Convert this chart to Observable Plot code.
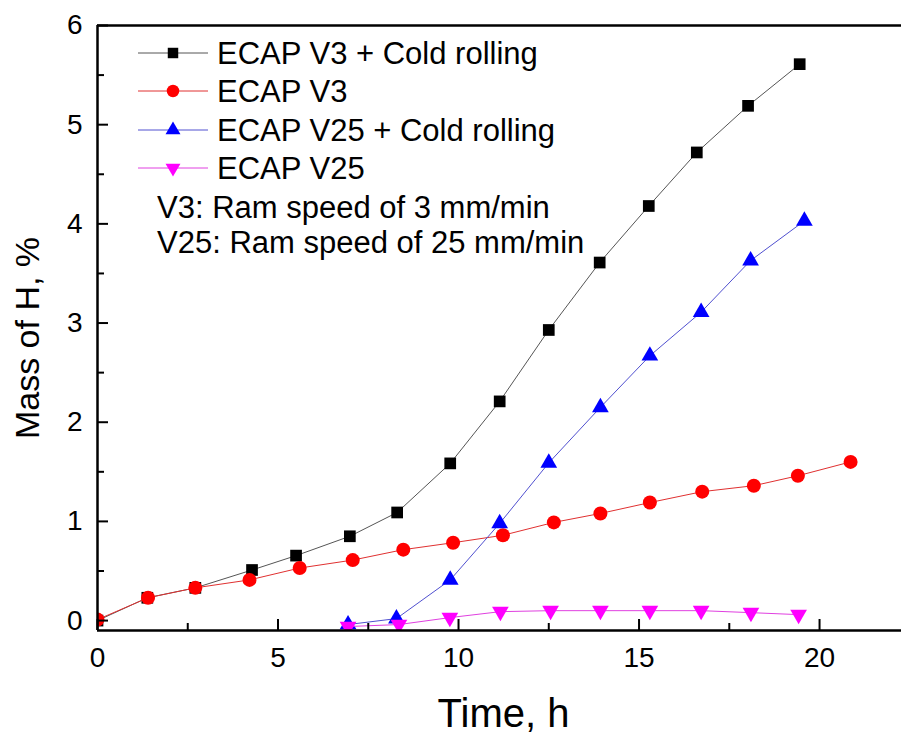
<!DOCTYPE html>
<html><head><meta charset="utf-8">
<script src="https://cdn.jsdelivr.net/npm/d3@7"></script>
<script src="https://cdn.jsdelivr.net/npm/@observablehq/plot@0.6"></script>
<style>
body{margin:0;background:#fff}
#chart{width:901px;height:734px}
</style>
</head><body><div id="chart"></div>
<script>
// ---- data ----
const seriesNames = ["ECAP V3 + Cold rolling", "ECAP V3", "ECAP V25 + Cold rolling", "ECAP V25"];
const noteLines = ["V3: Ram speed of 3 mm/min", "V25: Ram speed of 25 mm/min"];

const v3crTime = [0, 1.38, 2.71, 4.28, 5.5, 6.99, 8.3, 9.77, 11.14, 12.5, 13.91, 15.27, 16.6, 18.02, 19.45];
const v3crMass = [0, 0.23, 0.33, 0.51, 0.655, 0.85, 1.09, 1.585, 2.21, 2.93, 3.61, 4.18, 4.72, 5.19, 5.61];

const v3Time = [0, 1.4, 2.71, 4.21, 5.6, 7.07, 8.47, 9.85, 11.23, 12.64, 13.93, 15.3, 16.75, 18.18, 19.4, 20.86];
const v3Mass = [0.01, 0.23, 0.33, 0.41, 0.53, 0.61, 0.715, 0.785, 0.86, 0.99, 1.08, 1.19, 1.3, 1.36, 1.46, 1.6];

const v25crTime = [6.94, 8.28, 9.77, 11.14, 12.5, 13.93, 15.3, 16.72, 18.09, 19.58];
const v25crMass = [-0.04, 0.02, 0.41, 0.98, 1.59, 2.15, 2.67, 3.11, 3.63, 4.03];

const v25Time = [6.94, 8.35, 9.76, 11.16, 12.55, 13.93, 15.3, 16.72, 18.1, 19.42];
const v25Mass = [-0.06, -0.04, 0.03, 0.09, 0.1, 0.1, 0.1, 0.1, 0.08, 0.06];

const xTicks = [0, 5, 10, 15, 20];
const xMinor = [2.5, 7.5, 12.5, 17.5];
const yTicks = [0, 1, 2, 3, 4, 5, 6];
const yMinor = [0.5, 1.5, 2.5, 3.5, 4.5, 5.5];

// ---- styles ----
const seriesStyle = [
  {symbol: "square",   fill: "#000000", line: "#555555", r: 6.6, rotate: 0},
  {symbol: "circle",   fill: "#ff0000", line: "#e03030", r: 7,   rotate: 0},
  {symbol: "triangle", fill: "#0000ff", line: "#5050d0", r: 6.2, rotate: 0},
  {symbol: "triangle", fill: "#ff00ff", line: "#e040e0", r: 6.2, rotate: 180}
];

const toRows = (t, m) => t.map((x, i) => ({time: x, mass: m[i]}));
const series = [
  toRows(v3crTime, v3crMass),
  toRows(v3Time, v3Mass),
  toRows(v25crTime, v25crMass),
  toRows(v25Time, v25Mass)
];

const W = 901, H = 734, mL = 97, mR = 0, mT = 25, mB = 104;
const frameW = W - mL - mR, frameH = H - mT - mB;
const FONT = "'Liberation Sans', Arial, sans-serif";

const marks = [];
series.forEach((rows, i) => {
  const s = seriesStyle[i];
  marks.push(Plot.line(rows, {x: "time", y: "mass", stroke: s.line, strokeWidth: 1, clip: true}));
  marks.push(Plot.dot(rows, {x: "time", y: "mass", symbol: s.symbol, fill: s.fill, stroke: "none", r: s.r, rotate: s.rotate, clip: true}));
});

const chart = Plot.plot({
  width: W, height: H,
  marginLeft: mL, marginRight: mR, marginTop: mT, marginBottom: mB,
  style: {fontFamily: FONT, fontSize: "28px", color: "#000", background: "#fff"},
  x: {domain: [0, 22.27], axis: null},
  y: {domain: [-0.1, 6], axis: null},
  symbol: {type: "identity"},
  marks: [
    ...marks,
    // frame lines (left, bottom, top)
    Plot.ruleX([0], {stroke: "#000", strokeWidth: 2.5}),
    Plot.ruleY([-0.1], {stroke: "#000", strokeWidth: 2.5}),
    Plot.ruleY([6], {stroke: "#000", strokeWidth: 2.5}),
    // inward ticks
    Plot.tickX(xTicks, {x: d => d, insetTop: frameH - 11, stroke: "#000", strokeWidth: 2}),
    Plot.tickX(xMinor, {x: d => d, insetTop: frameH - 7, stroke: "#000", strokeWidth: 2}),
    Plot.tickY(yTicks, {y: d => d, insetRight: frameW - 11, stroke: "#000", strokeWidth: 2}),
    Plot.tickY(yMinor, {y: d => d, insetRight: frameW - 7, stroke: "#000", strokeWidth: 2}),
    // tick labels
    Plot.text(xTicks, {x: d => d, text: d => String(d), frameAnchor: "bottom", lineAnchor: "top", textAnchor: "middle", dy: 17, fontSize: 28, fill: "#000"}),
    Plot.text(yTicks, {y: d => d, text: d => String(d), frameAnchor: "left", lineAnchor: "middle", textAnchor: "end", dx: -15, fontSize: 28, fill: "#000"}),
    // axis titles
    Plot.text(["Time, h"], {frameAnchor: "bottom", textAnchor: "middle", lineAnchor: "middle", dx: 4, dy: 84, fontSize: 40, fill: "#000"}),
    Plot.text(["Mass of H, %"], {frameAnchor: "left", textAnchor: "middle", lineAnchor: "middle", rotate: -90, dx: -69, dy: 10, fontSize: 34, fill: "#000"})
  ]
});
document.getElementById("chart").appendChild(chart);

// ---- legend (drawn inside the plot's svg) ----
const svg = d3.select(chart);
const symMap = {square: d3.symbolSquare, circle: d3.symbolCircle, triangle: d3.symbolTriangle};
const leg = svg.append("g").attr("font-family", FONT).attr("font-size", 31).attr("text-anchor", "start");
const rowY = [53, 91, 130, 168];
seriesNames.forEach((name, i) => {
  const s = seriesStyle[i];
  const g = leg.append("g").attr("transform", `translate(0,${rowY[i]})`);
  g.append("line").attr("x1", 138).attr("x2", 208).attr("y1", 0).attr("y2", 0)
    .attr("stroke", s.line).attr("stroke-width", 1);
  g.append("path")
    .attr("d", d3.symbol(symMap[s.symbol], s.r * s.r * Math.PI * 0.8)())
    .attr("transform", `translate(173,0) rotate(${s.rotate})`)
    .attr("fill", s.fill);
  g.append("text").attr("x", 217).attr("y", 0).attr("dy", "0.35em").attr("fill", "#000").attr("text-anchor", "start").text(name);
});
noteLines.forEach((t, i) => {
  leg.append("text").attr("x", 157).attr("y", [207, 242][i]).attr("dy", "0.35em").attr("fill", "#000").attr("text-anchor", "start").text(t);
});
</script>
</body></html>
